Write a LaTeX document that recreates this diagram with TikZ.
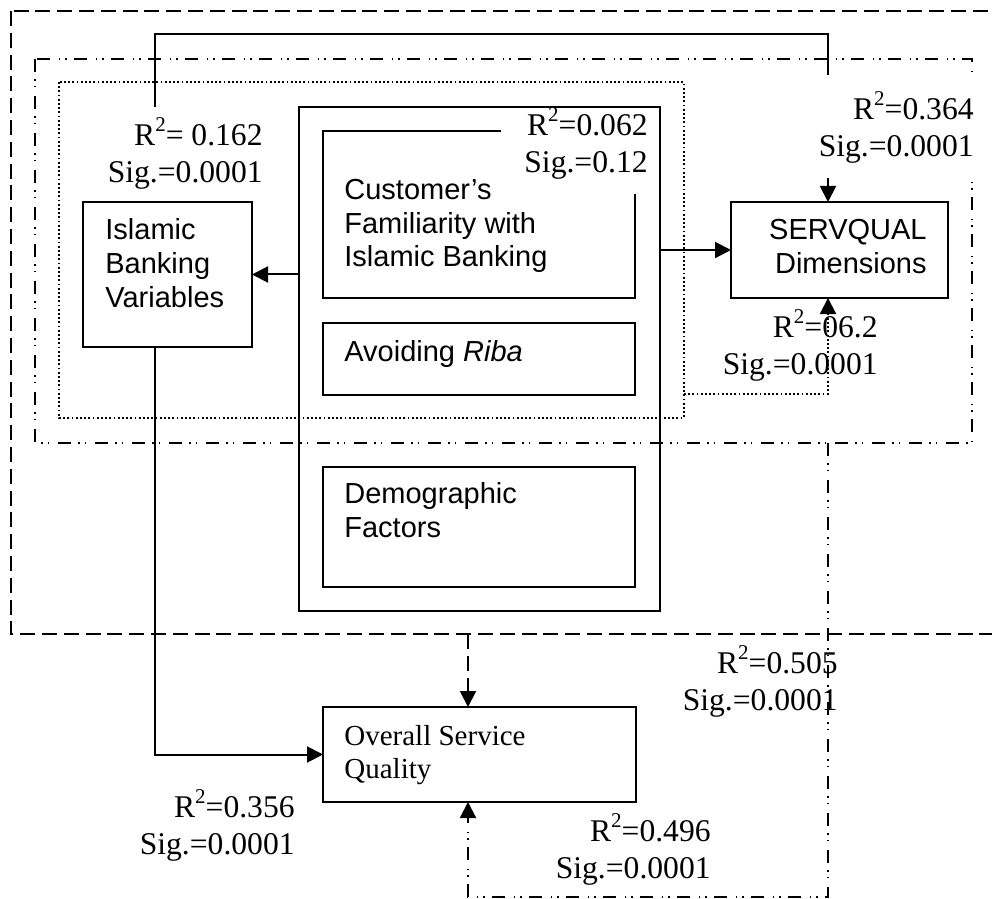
\documentclass[tikz,border=0pt]{standalone}
\usepackage{fontspec}
\setmainfont{Liberation Serif}
\newfontfamily\arialfont{Liberation Sans}
\usetikzlibrary{arrows.meta,fit}
\newcommand\rsq{R\raisebox{7pt}{\fontsize{10.5}{10.5}\selectfont 2}}
\begin{document}
\begin{tikzpicture}[x=0.5pt,y=-0.5pt,
  lw/.style={line width=1pt},
  box/.style={draw,line width=1pt,inner sep=0pt,outer sep=0pt},
  arr/.style={-{Triangle[length=8pt,width=8pt]}},
  ddot/.style={dash pattern=on 6.5pt off 3.5pt on 0.8pt off 2.5pt on 0.8pt off 4.4pt},
  longdash/.style={dash pattern=on 7.5pt off 3.4pt},
  dotline/.style={dash pattern=on 0.9pt off 1.2pt},
  sans/.style={font=\arialfont\fontsize{14.5}{16.8}\selectfont, align=left, inner sep=0pt, anchor=base west},
  stat/.style={font=\fontsize{15.8}{18.5}\selectfont, align=right, inner sep=0pt, anchor=base east},
  serif/.style={font=\fontsize{14.5}{16.5}\selectfont, align=left, inner sep=0pt, anchor=base west},
]
\clip (0,0) rectangle (992,899);
\fill[white] (0,0) rectangle (992,899);

% enclosing frames
\draw[lw,longdash] (11,11) rectangle (1010,634);
\draw[lw,ddot] (35,59) rectangle (972,443);
\draw[lw,dotline] (59,82) rectangle (684,418);

% boxes
\node[box, fit={(299,107) (660,611)}] (grp) {};
\node[box, fit={(323,131) (635,298)}] (cust) {};
\node[box, fit={(323,323) (635,395)}] (riba) {};
\node[box, fit={(323,467) (635,587)}] (demo) {};
\node[box, fit={(83,202) (252,347)}] (ibv) {};
\node[box, fit={(731,202) (948,298)}] (serv) {};
\node[box, fit={(323,707) (636,802)}] (osq) {};

% box texts (anchor = baseline of last line)
\node[sans] (ibvt) at (105,307) {Islamic\\Banking\\Variables};
\node[sans] (custt) at (344,267) {Customer’s\\Familiarity with\\Islamic Banking};
\node[sans] (ribat) at (344,361) {Avoiding \textit{Riba}};
\node[sans] (demot) at (344,537) {Demographic\\Factors};
\node[sans, align=right, anchor=base east] (servt) at (927,273) {SERVQUAL\\Dimensions};
\node[serif] (osqt) at (344,778) {Overall Service\\Quality};

% connectors
\coordinate (a1) at (155,107);
\coordinate (a2) at (828,79);
\coordinate (a3) at (828,178);
\draw[lw] (a1) -- (155,34) -- (828,34) -- (a2);
\draw[lw,arr] (a3) -- (a3 |- serv.north);

\draw[lw,arr] (grp.west |- ibv.east) -- (ibv.east);
\draw[lw,arr] (grp.east |- serv.west) -- (serv.west);

\coordinate (d1) at (684,394);
\draw[lw,dotline,arr] (d1) -| (a3 |- serv.south);

\coordinate (b1) at (155,347);
\draw[lw,arr] (b1) |- (osq.west);

\coordinate (c1) at (468,634);
\draw[lw,longdash,arr] (c1) -- (c1 |- osq.north);

\coordinate (e1) at (828,443);
\draw[lw,ddot,arr] (e1) -- (828,897) -- (468,897) -- (c1 |- osq.south);

% white backgrounds of labels
\fill[white] (501,110) rectangle (642,194);
\fill[white] (812,75) rectangle (982,178);

% statistics labels (anchor = baseline of second line)
\node[stat] (s162) at (263,183) {\rsq= 0.162\\Sig.=0.0001};
\node[stat] (s062) at (648,173) {\rsq=0.062\\Sig.=0.12};
\node[stat] (s364) at (974,157) {\rsq=0.364\\Sig.=0.0001};
\node[stat] (s62) at (878,374) {\rsq=06.2\\Sig.=0.0001};
\node[stat] (s505) at (838,710) {\rsq=0.505\\Sig.=0.0001};
\node[stat] (s356) at (295,854) {\rsq=0.356\\Sig.=0.0001};
\node[stat] (s496) at (711,878) {\rsq=0.496\\Sig.=0.0001};
\end{tikzpicture}
\end{document}
